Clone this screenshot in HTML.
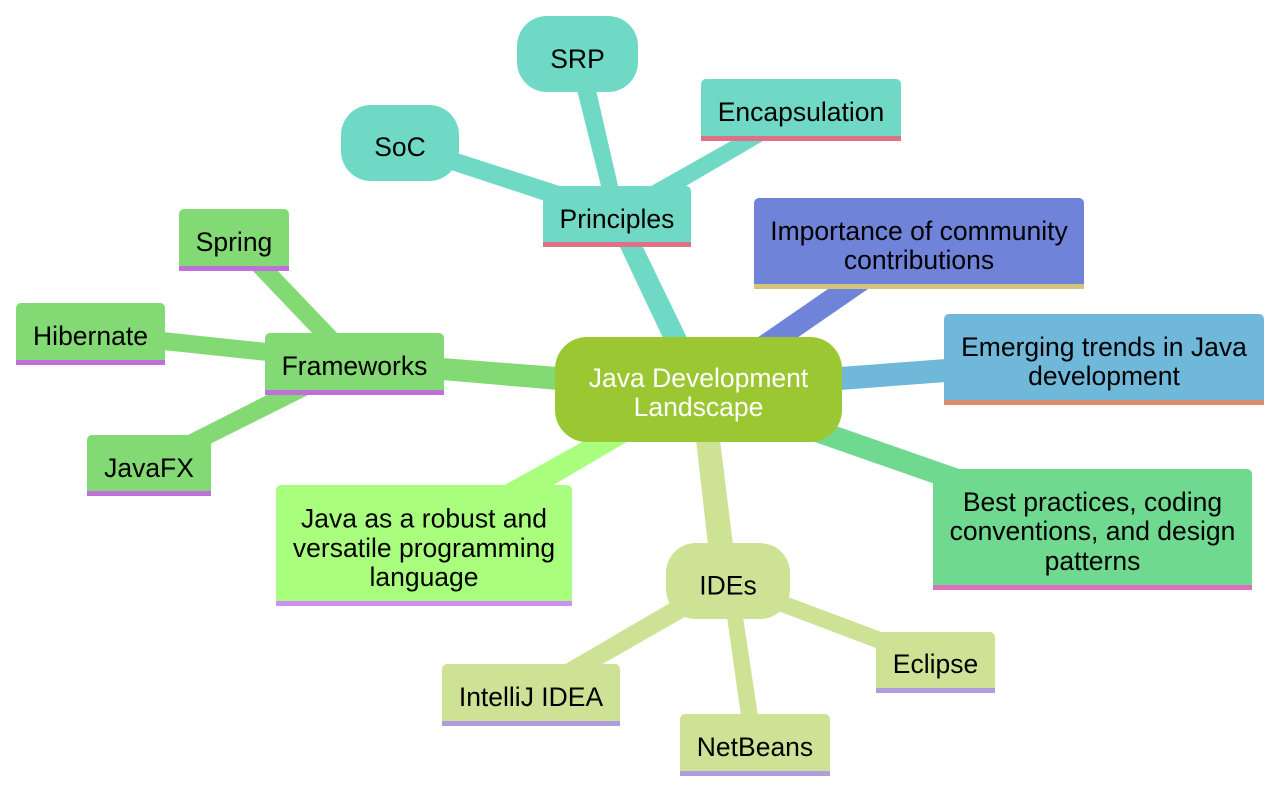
<!DOCTYPE html>
<html>
<head>
<meta charset="utf-8">
<style>
html,body{margin:0;padding:0;background:#fff;width:1280px;height:790px;overflow:hidden}
svg{display:block}
text{font-family:"Liberation Sans",Arial,sans-serif;font-size:26.5px;fill:#000;text-anchor:middle}
</style>
</head>
<body>
<svg width="1280" height="790" viewBox="0 0 1280 790" xmlns="http://www.w3.org/2000/svg">
<!-- edges -->
<polygon points="620,247 643,247 688,340 664,340" fill="#6FD9C6"/>
<polygon points="577,90 596,90 619,190 602,190" fill="#6FD9C6"/>
<polygon points="457,153 451,170 545,201 572,190" fill="#6FD9C6"/>
<polygon points="731,141 763,141 679,190 644,190" fill="#6FD9C6"/>
<polygon points="828,289 868,289 794,340 754,340" fill="#6F83D9"/>
<polygon points="840,367 946,359 946,382 840,390" fill="#6FB8D9"/>
<polygon points="836,426 962,470 935,484 812,441" fill="#6FD98F"/>
<polygon points="696,440 720,440 733,545 708,545" fill="#CEE296"/>
<polygon points="586,440 630,440 550,487 501,487" fill="#A9FF7D"/>
<polygon points="442,358 558,367 558,390 442,380" fill="#83D973"/>
<polygon points="251,269 276,269 339,335 314,335" fill="#83D973"/>
<polygon points="163,332 267,343 267,361 163,350" fill="#83D973"/>
<polygon points="271,393 312,393 208,445 184,437" fill="#83D973"/>
<polygon points="788,597 778,611 876,648 884,633" fill="#CEE296"/>
<polygon points="727,617 743,617 758,716 741,716" fill="#CEE296"/>
<polygon points="675,600 690,614 599,666 562,666" fill="#CEE296"/>
<!-- rounded nodes -->
<rect x="555" y="337" width="287" height="105" rx="32" fill="#9BC832"/>
<rect x="517" y="16" width="121" height="76" rx="30" fill="#6FD9C6"/>
<rect x="341" y="105" width="118" height="76" rx="30" fill="#6FD9C6"/>
<rect x="666" y="543" width="124" height="76" rx="30" fill="#CEE296"/>
<!-- box nodes -->
<path d="M543 243V191a5 5 0 0 1 5-5H686a5 5 0 0 1 5 5V243Z" fill="#6FD9C6"/><rect x="543" y="242" width="148" height="5" fill="#DE7089"/>
<path d="M701 136V84a5 5 0 0 1 5-5H896a5 5 0 0 1 5 5V136Z" fill="#6FD9C6"/><rect x="701" y="136" width="200" height="5" fill="#DE7089"/>
<path d="M754 285V203a5 5 0 0 1 5-5H1079a5 5 0 0 1 5 5V285Z" fill="#6F83D9"/><rect x="754" y="284" width="330" height="5" fill="#D5C47E"/>
<path d="M944 401V319a5 5 0 0 1 5-5H1259a5 5 0 0 1 5 5V401Z" fill="#6FB8D9"/><rect x="944" y="400" width="320" height="5" fill="#DE8C6F"/>
<path d="M933 586V474a5 5 0 0 1 5-5H1247a5 5 0 0 1 5 5V586Z" fill="#6FD98F"/><rect x="933" y="585" width="319" height="5" fill="#D96FBD"/>
<path d="M876 689V637a5 5 0 0 1 5-5H990a5 5 0 0 1 5 5V689Z" fill="#CEE296"/><rect x="876" y="688" width="119" height="5" fill="#B09DDF"/>
<path d="M680 772V719a5 5 0 0 1 5-5H825a5 5 0 0 1 5 5V772Z" fill="#CEE296"/><rect x="680" y="771" width="150" height="5" fill="#B09DDF"/>
<path d="M442 722V669a5 5 0 0 1 5-5H615a5 5 0 0 1 5 5V722Z" fill="#CEE296"/><rect x="442" y="721" width="178" height="5" fill="#B09DDF"/>
<path d="M276 602V490a5 5 0 0 1 5-5H567a5 5 0 0 1 5 5V602Z" fill="#A9FF7D"/><rect x="276" y="601" width="296" height="5" fill="#CC8FF5"/>
<path d="M265 391V338a5 5 0 0 1 5-5H439a5 5 0 0 1 5 5V391Z" fill="#83D973"/><rect x="265" y="390" width="179" height="5" fill="#C070D9"/>
<path d="M179 267V214a5 5 0 0 1 5-5H284a5 5 0 0 1 5 5V267Z" fill="#83D973"/><rect x="179" y="266" width="110" height="5" fill="#C070D9"/>
<path d="M16 361V308a5 5 0 0 1 5-5H160a5 5 0 0 1 5 5V361Z" fill="#83D973"/><rect x="16" y="360" width="149" height="5" fill="#C070D9"/>
<path d="M87 492V440a5 5 0 0 1 5-5H206a5 5 0 0 1 5 5V492Z" fill="#83D973"/><rect x="87" y="491" width="124" height="5" fill="#C070D9"/>
<!-- labels -->
<text x="698.5" y="387" style="fill:#fff">Java Development</text>
<text x="698.5" y="416" style="fill:#fff">Landscape</text>
<text x="617" y="228">Principles</text>
<text x="577.5" y="68">SRP</text>
<text x="400" y="156">SoC</text>
<text x="801" y="121">Encapsulation</text>
<text x="919" y="240">Importance of community</text>
<text x="919" y="269">contributions</text>
<text x="1104" y="356">Emerging trends in Java</text>
<text x="1104" y="385">development</text>
<text x="1092.5" y="511">Best practices, coding</text>
<text x="1092.5" y="540">conventions, and design</text>
<text x="1092.5" y="570">patterns</text>
<text x="728" y="594.5">IDEs</text>
<text x="935.5" y="673">Eclipse</text>
<text x="755" y="756">NetBeans</text>
<text x="531" y="706">IntelliJ IDEA</text>
<text x="424" y="527.5">Java as a robust and</text>
<text x="424" y="557">versatile programming</text>
<text x="424" y="586">language</text>
<text x="354.5" y="375">Frameworks</text>
<text x="234" y="251">Spring</text>
<text x="90.5" y="345">Hibernate</text>
<text x="149" y="477">JavaFX</text>
</svg>
</body>
</html>
